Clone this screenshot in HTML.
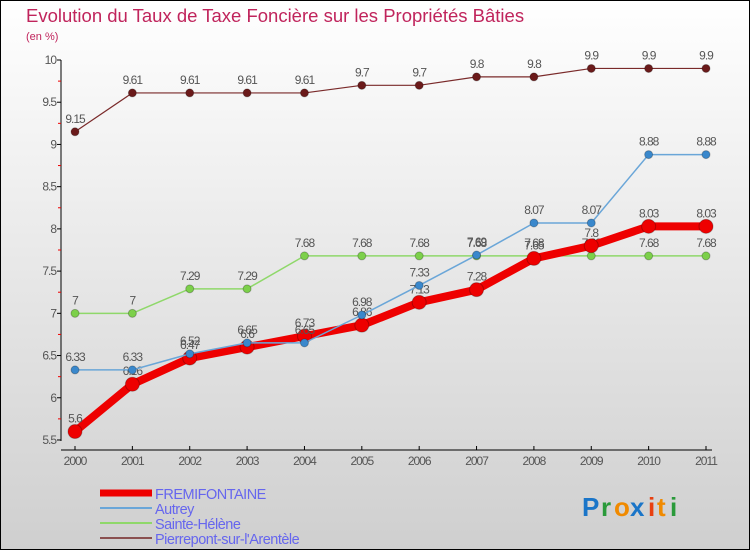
<!DOCTYPE html>
<html><head><meta charset="utf-8"><style>
body{margin:0}
#c{width:750px;height:550px;position:relative;overflow:hidden;font-family:"Liberation Sans",sans-serif}
</style></head><body>
<div id="c">
<svg id="s" width="750" height="550" xmlns="http://www.w3.org/2000/svg">
<defs><linearGradient id="bg" x1="0" y1="0" x2="0" y2="1"><stop offset="0" stop-color="#ffffff"/><stop offset="1" stop-color="#cfcfcf"/></linearGradient></defs>
<rect x="0.5" y="0.5" width="749" height="549" fill="url(#bg)" stroke="#000"/>
<text x="26" y="22" font-size="18.5" fill="#c0245c">Evolution du Taux de Taxe Foncière sur les Propriétés Bâties</text>
<text x="26" y="40" font-size="11" fill="#c0245c">(en %)</text>
<g id="axes"></g><g id="marks"></g><g id="legend"></g>
<g font-size="26" font-weight="bold">
<text x="582" y="516" fill="#1a75c8">P</text><text x="601" y="516" fill="#2a9a3a">r</text><text x="614" y="516" fill="#f08a00">o</text><text x="630" y="516" fill="#1a75c8">x</text><text x="648" y="516" fill="#e84010">i</text><text x="657" y="516" fill="#f08a00">t</text><text x="670" y="516" fill="#2a9a3a">i</text>
</g>
</svg>
</div>
<script>
const years=["2000","2001","2002","2003","2004","2005","2006","2007","2008","2009","2010","2011"];
const fremifontaine=[5.6,6.16,6.47,6.6,6.73,6.86,7.13,7.28,7.65,7.8,8.03,8.03];
const autrey=[6.33,6.33,6.52,6.65,6.65,6.98,7.33,7.69,8.07,8.07,8.88,8.88];
const sainteHelene=[7,7,7.29,7.29,7.68,7.68,7.68,7.68,7.68,7.68,7.68,7.68];
const pierrepont=[9.15,9.61,9.61,9.61,9.61,9.7,9.7,9.8,9.8,9.9,9.9,9.9];
const yTicks=[5.5,6,6.5,7,7.5,8,8.5,9,9.5,10];
const NS="http://www.w3.org/2000/svg";
const x=i=>75+i*(631/11);
const y=v=>60+(10-v)*84.44;
function mk(tag,attrs,parent){const e=document.createElementNS(NS,tag);for(const k in attrs)e.setAttribute(k,attrs[k]);parent.appendChild(e);return e;}
const axes=document.getElementById('axes'),marks=document.getElementById('marks'),legend=document.getElementById('legend');
let a=mk('line',{x1:61,y1:y(10),x2:61,y2:y(5.5)+1,stroke:'#000'},axes);

a=mk('line',{x1:61,y1:450,x2:712,y2:450,stroke:'#000'},axes);

yTicks.forEach(v=>{
 mk('line',{x1:57,y1:y(v),x2:61,y2:y(v),stroke:'#000'},axes);
 const t=mk('text',{x:56,y:y(v)+4,'font-size':12,fill:'#555','text-anchor':'end','letter-spacing':'-1'},axes);t.textContent=v;
 
 if(v<10)mk('line',{x1:58,y1:y(v+0.25),x2:61,y2:y(v+0.25),stroke:'#e00'},axes);
});
years.forEach((yr,i)=>{
 mk('line',{x1:x(i),y1:446,x2:x(i),y2:450,stroke:'#000'},axes);
 const t=mk('text',{x:x(i),y:465,'font-size':12,fill:'#555','text-anchor':'middle','letter-spacing':'-1'},axes);t.textContent=yr;
 
});
function series(name,data,color,w,r,dot){
 const g=mk('g',{},marks);
 const pts=data.map((v,i)=>x(i)+','+y(v)).join(' ');
 mk('polyline',{points:pts,fill:'none',stroke:color,'stroke-width':w,'stroke-linejoin':'round'},g);
 data.forEach((v,i)=>{
  const c=mk('circle',{cx:x(i),cy:y(v),r:r,fill:dot,stroke:'rgba(0,0,0,0.25)'},g);
  
  const t=mk('text',{x:x(i),y:y(v)-9,'font-size':12,fill:'#555','text-anchor':'middle','letter-spacing':'-1'},g);t.textContent=v;
  
 });
}
series('pierrepont',pierrepont,'#7a2a2a',1.2,4,'#6b1a1a');
series('sainte-helene',sainteHelene,'#8fd86a',1.5,4,'#7cd04a');
series('fremifontaine',fremifontaine,'#ee0000',8,7,'#ee0000');
series('autrey',autrey,'#6aa6d8',1.5,4,'#3a88cc');
const legNames=['FREMIFONTAINE','Autrey','Sainte-Hélène','Pierrepont-sur-l\'Arentèle'];
const legCols=['#ee0000','#6aa6d8','#8fd86a','#8a5050'];
const legW=[7,2,2,2];
legNames.forEach((n,i)=>{
 const yy=493+i*15;
 const l=mk('line',{x1:100,y1:yy,x2:152,y2:yy,stroke:legCols[i],'stroke-width':legW[i]},legend);
 
 const t=mk('text',{x:155,y:yy+6,'font-size':14.5,fill:'#6666ee','letter-spacing':'-0.5'},legend);t.textContent=n;
 
});
</script>
</body></html>
